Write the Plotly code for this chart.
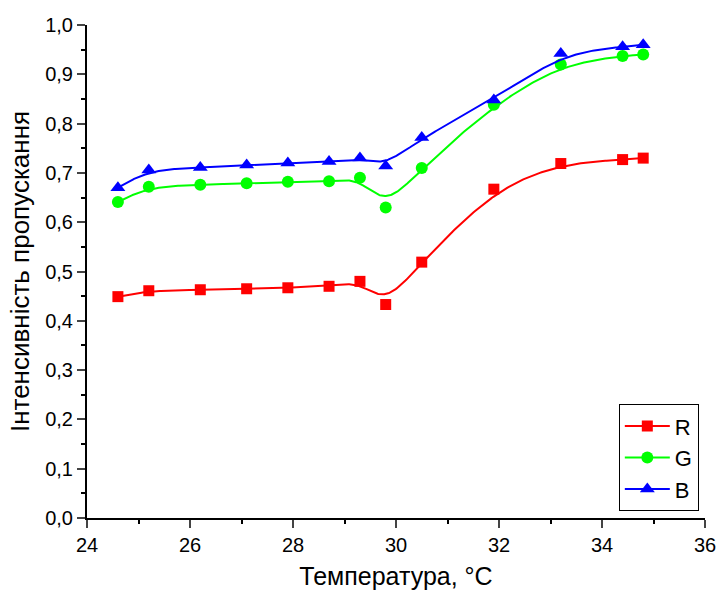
import numpy as np
import plotly.graph_objects as go

temperature = [24.6, 25.2, 26.2, 27.1, 27.9, 28.7, 29.3, 29.8, 30.5, 31.9, 33.2, 34.4, 34.8]
r_values = [0.449, 0.461, 0.463, 0.465, 0.467, 0.470, 0.480, 0.433, 0.519, 0.667, 0.719, 0.727, 0.730]
g_values = [0.641, 0.672, 0.676, 0.679, 0.682, 0.683, 0.690, 0.630, 0.710, 0.838, 0.920, 0.937, 0.940]
b_values = [0.670, 0.706, 0.711, 0.716, 0.720, 0.723, 0.730, 0.714, 0.772, 0.848, 0.942, 0.956, 0.960]

x_ticks = [24, 26, 28, 30, 32, 34, 36]
y_ticks = [0.0, 0.1, 0.2, 0.3, 0.4, 0.5, 0.6, 0.7, 0.8, 0.9, 1.0]


def bspline(xs, ys, n=40):
    px = np.array([xs[0]] * 2 + list(xs) + [xs[-1]] * 2, dtype=float)
    py = np.array([ys[0]] * 2 + list(ys) + [ys[-1]] * 2, dtype=float)
    t = np.linspace(0, 1, n)
    b0 = (1 - t) ** 3 / 6
    b1 = (3 * t ** 3 - 6 * t ** 2 + 4) / 6
    b2 = (-3 * t ** 3 + 3 * t ** 2 + 3 * t + 1) / 6
    b3 = t ** 3 / 6
    ox, oy = [], []
    for i in range(len(px) - 3):
        ox.extend(b0 * px[i] + b1 * px[i + 1] + b2 * px[i + 2] + b3 * px[i + 3])
        oy.extend(b0 * py[i] + b1 * py[i + 1] + b2 * py[i + 2] + b3 * py[i + 3])
    return ox, oy


series = [
    ("R", r_values, "#ff0000", "square", 11),
    ("G", g_values, "#00ff00", "circle", 12),
    ("B", b_values, "#0000ff", "triangle-up", 13),
]

fig = go.Figure()
for name, vals, color, symbol, size in series:
    sx, sy = bspline(temperature, vals)
    fig.add_trace(go.Scatter(x=sx, y=sy, mode="lines", line=dict(color=color, width=2),
                             showlegend=False, hoverinfo="skip"))
    fig.add_trace(go.Scatter(x=temperature, y=vals, mode="markers",
                             marker=dict(color=color, symbol=symbol, size=size),
                             showlegend=False, name=name))
    fig.add_trace(go.Scatter(x=[None], y=[None], mode="lines+markers", name=name,
                             line=dict(color=color, width=2),
                             marker=dict(color=color, symbol=symbol, size=size)))

font_family = "Liberation Sans, Arial, sans-serif"
fig.update_layout(
    width=717, height=596,
    margin=dict(l=87, r=12, t=25, b=78),
    plot_bgcolor="white", paper_bgcolor="white",
    separators=",.",
    font=dict(family=font_family, color="black", size=20),
    legend=dict(x=0.99, y=0.231, xanchor="right", yanchor="top",
                bordercolor="black", borderwidth=1, bgcolor="white",
                font=dict(size=22), itemwidth=45, tracegroupgap=0),
    xaxis=dict(range=[24, 36], tickvals=x_ticks, ticks="outside", ticklen=8, tickwidth=2,
               showline=True, linecolor="black", linewidth=2, showgrid=False, zeroline=False,
               tickfont=dict(size=20), automargin=False,
               minor=dict(dtick=1, ticks="outside", ticklen=4, tickwidth=2, tickcolor="black"),
               title=dict(text="Температура, °C", font=dict(size=25), standoff=12)),
    yaxis=dict(range=[0, 1.0], tickvals=y_ticks, tickformat=".1f", ticks="outside", ticklen=8,
               tickwidth=2, showline=True, linecolor="black", linewidth=2, showgrid=False,
               zeroline=False, tickfont=dict(size=20), automargin=False,
               minor=dict(dtick=0.05, ticks="outside", ticklen=4, tickwidth=2, tickcolor="black"),
               title=dict(text="Інтенсивність пропускання", font=dict(size=26), standoff=8)),
)
fig.write_html("out.html")
